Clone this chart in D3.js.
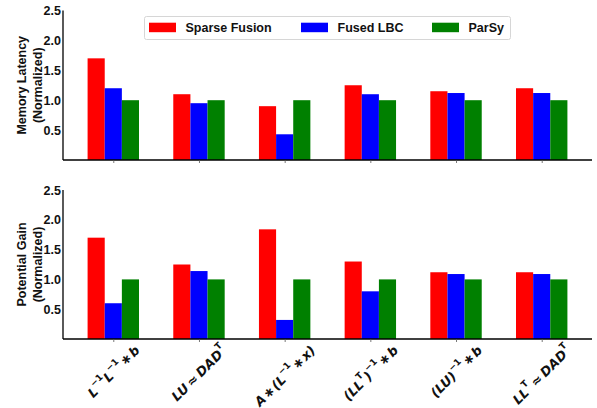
<!DOCTYPE html>
<html>
<head>
<meta charset="utf-8">
<script src="https://cdn.jsdelivr.net/npm/d3@7"></script>
<style>
  html, body { margin: 0; padding: 0; background: #fff; }
  svg { display: block; }
</style>
</head>
<body>
<svg id="chart" width="597" height="408"></svg>
<script>
// Workload labels (mathtext-like: ^{...} or ^X marks a superscript)
const categories = [
  "L^{−1}L^{−1}\u200a∗\u200ab",
  "LU\u2009≈\u2009DAD^T",
  "A\u200a∗\u200a(L^{−1}\u200a∗\u200ax)",
  "(LL^T)^{−1}\u200a∗\u200ab",
  "(LU)^{−1}\u200a∗\u200ab",
  "LL^T\u2009≈\u2009DAD^T"
];
const seriesNames = ["Sparse Fusion", "Fused LBC", "ParSy"];
const seriesColors = ["#ff0000", "#0000ff", "#008000"];

// Memory latency, normalized to ParSy
const latencySparseFusion = [1.70, 1.10, 0.90, 1.25, 1.15, 1.20];
const latencyFusedLBC     = [1.20, 0.95, 0.43, 1.10, 1.12, 1.12];
const latencyParSy        = [1.00, 1.00, 1.00, 1.00, 1.00, 1.00];

// Potential gain, normalized to ParSy
const gainSparseFusion = [1.70, 1.25, 1.84, 1.30, 1.12, 1.12];
const gainFusedLBC     = [0.60, 1.14, 0.32, 0.80, 1.09, 1.09];
const gainParSy        = [1.00, 1.00, 1.00, 1.00, 1.00, 1.00];

const yTicks = [0.5, 1.0, 1.5, 2.0, 2.5];

const svg = d3.select("#chart");
const FONT = "'Liberation Sans', Arial, Helvetica, sans-serif";

const left = 63, right = 592;
const x = d3.scalePoint().domain(d3.range(categories.length)).range([left, right]).padding(0.587);
const step = x.step();
const barW = step * 0.2;

const panels = [
  { title: ["Memory Latency", "(Normalized)"], y0: 160, y1: 10.5,
    series: [latencySparseFusion, latencyFusedLBC, latencyParSy] },
  { title: ["Potential Gain", "(Normalized)"], y0: 339, y1: 190,
    series: [gainSparseFusion, gainFusedLBC, gainParSy] }
];

panels.forEach(p => {
  const y = d3.scaleLinear().domain([0, 2.5]).range([p.y0, p.y1]);
  const g = svg.append("g");

  // grouped bars
  p.series.forEach((vals, si) => {
    g.selectAll(null).data(vals).enter().append("rect")
      .attr("x", (d, i) => x(i) + (si - 1) * barW - barW / 2)
      .attr("width", barW)
      .attr("y", d => y(d))
      .attr("height", d => y(0) - y(d))
      .attr("fill", seriesColors[si]);
  });

  // y axis
  const yAxis = d3.axisLeft(y).tickValues(yTicks).tickSize(0).tickPadding(2)
    .tickFormat(d3.format(".1f"));
  const ya = g.append("g").attr("transform", `translate(${left},0)`).call(yAxis);
  ya.select(".domain").attr("stroke", "#000").attr("stroke-width", 1.3)
    .attr("d", `M0,${y(2.5)}V${y(0)}`);
  ya.selectAll("text").attr("font-family", FONT).attr("font-weight", "bold")
    .attr("font-size", "12.5px").attr("fill", "#111");

  // x axis
  const xAxis = d3.axisBottom(x).tickSize(3).tickFormat("");
  const xa = g.append("g").attr("transform", `translate(0,${y(0)})`).call(xAxis);
  xa.select(".domain").attr("stroke", "#000").attr("stroke-width", 1.3)
    .attr("d", `M${left},0H${right}`);
  xa.selectAll(".tick line").attr("stroke", "#555").attr("stroke-width", 0.8);

  // two-line y label
  const cy = (p.y0 + p.y1) / 2;
  p.title.forEach((t, li) => {
    g.append("text")
      .attr("transform", `translate(${22 + li * 16},${cy}) rotate(-90)`)
      .attr("text-anchor", "middle").attr("dominant-baseline", "central")
      .attr("font-family", FONT).attr("font-weight", "bold").attr("font-size", "12.5px")
      .attr("fill", "#111").text(t);
  });
});

// legend
const lg = svg.append("g");
lg.append("rect").attr("x", 144.5).attr("y", 16.5).attr("width", 366).attr("height", 23)
  .attr("rx", 2).attr("fill", "#fff").attr("stroke", "#d6d6d6").attr("stroke-width", 1);
const legendX = [149, 301, 432];
seriesNames.forEach((name, i) => {
  lg.append("rect").attr("x", legendX[i]).attr("y", 22.7).attr("width", 27).attr("height", 9.5)
    .attr("fill", seriesColors[i]);
  lg.append("text").attr("x", legendX[i] + 36.5).attr("y", 28)
    .attr("dominant-baseline", "central")
    .attr("font-family", FONT).attr("font-weight", "bold").attr("font-size", "12.5px")
    .attr("fill", "#111").text(name);
});

// split a label into normal / superscript runs
function parseMath(s) {
  const parts = [];
  let i = 0, buf = "";
  while (i < s.length) {
    if (s[i] === "^") {
      if (buf) { parts.push({ t: buf, sup: false }); buf = ""; }
      i++;
      if (s[i] === "{") {
        const j = s.indexOf("}", i);
        parts.push({ t: s.slice(i + 1, j), sup: true });
        i = j + 1;
      } else {
        parts.push({ t: s[i], sup: true });
        i++;
      }
    } else {
      buf += s[i]; i++;
    }
  }
  if (buf) parts.push({ t: buf, sup: false });
  return parts;
}

// rotated math labels under the lower panel
const axisY = 339;
const SUP_SHIFT = 5.5;
categories.forEach((lab, i) => {
  const t = svg.append("text")
    .attr("font-family", "'DejaVu Sans', sans-serif")
    .attr("font-weight", "bold").attr("font-style", "italic")
    .attr("font-size", "13px").attr("fill", "#111")
    .attr("text-anchor", "middle").attr("dominant-baseline", "central")
    .attr("xml:space", "preserve");
  let raised = false;
  parseMath(lab).forEach(pt => {
    const ts = t.append("tspan").text(pt.t);
    if (pt.sup) {
      ts.attr("font-size", "9px").attr("font-style", "normal");
      if (!raised) ts.attr("dy", -SUP_SHIFT);
      raised = true;
    } else {
      if (raised) ts.attr("dy", SUP_SHIFT);
      raised = false;
    }
  });
  const w = t.node().getComputedTextLength();
  const h = 13;
  const s = Math.SQRT1_2;
  const cy = axisY + 4 + (w * s + h * s) / 2;
  t.attr("transform", `translate(${x(i)},${cy}) rotate(-45)`);
});
</script>
</body>
</html>
